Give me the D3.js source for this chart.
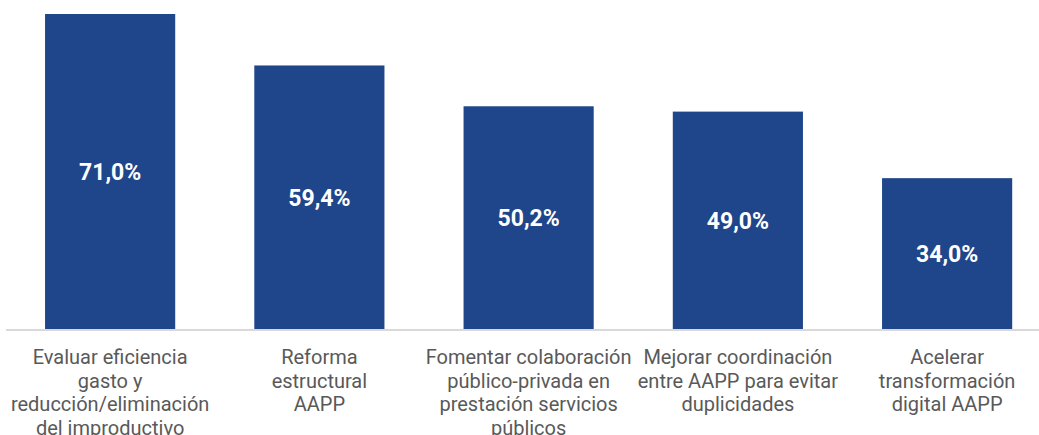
<!DOCTYPE html>
<html><head><meta charset="utf-8">
<script src="https://cdn.jsdelivr.net/npm/d3@7"></script>
<style>body{margin:0;background:#fff}svg{display:block}</style>
</head><body>
<svg id="c" width="1039" height="435"></svg>
<script>
const categories = [
  "Evaluar eficiencia\ngasto y\nreducción/eliminación\ndel improductivo",
  "Reforma\nestructural\nAAPP",
  "Fomentar colaboración\npúblico-privada en\nprestación servicios\npúblicos",
  "Mejorar coordinación\nentre AAPP para evitar\nduplicidades",
  "Acelerar\ntransformación\ndigital AAPP"
];
const values = [71.0, 59.4, 50.2, 49.0, 34.0];
const valueLabels = ["71,0%", "59,4%", "50,2%", "49,0%", "34,0%"];

const svg = d3.select("#c");
const baseY = 329;
const x = d3.scaleBand().domain(categories).range([5.5, 1051.75]).paddingInner(0.378).paddingOuter(0.189);
const y = d3.scaleLinear().domain([0, 71]).range([baseY, 14]);

svg.append("g").selectAll("rect").data(values).join("rect")
  .attr("x", (d,i) => x(categories[i]))
  .attr("width", x.bandwidth())
  .attr("y", d => y(d))
  .attr("height", d => baseY - y(d))
  .attr("fill", "#1f458b");

svg.append("line").attr("x1", 6).attr("x2", 1039).attr("y1", 330).attr("y2", 330)
  .attr("stroke", "#d9d9d9").attr("stroke-width", 2);

svg.append("g").selectAll("text").data(values).join("text")
  .attr("x", (d,i) => x(categories[i]) + x.bandwidth()/2)
  .attr("y", d => (y(d) + baseY)/2)
  .attr("dy", "0.36em")
  .attr("text-anchor", "middle")
  .attr("font-family", "Roboto, sans-serif")
  .attr("font-weight", "bold")
  .attr("font-size", 23)
  .attr("fill", "#fff")
  .text((d,i) => valueLabels[i]);

const lab = svg.append("g").selectAll("text").data(categories).join("text")
  .attr("x", d => x(d) + x.bandwidth()/2)
  .attr("y", 364)
  .attr("text-anchor", "middle")
  .attr("font-family", "Roboto, sans-serif")
  .attr("font-size", 20)
  .attr("fill", "#595959");
lab.each(function(d){
  const t = d3.select(this);
  d.split("\n").forEach((ln, j) => {
    t.append("tspan").attr("x", x(d) + x.bandwidth()/2).attr("y", 364 + j*23.7).text(ln);
  });
});
</script>
</body></html>
